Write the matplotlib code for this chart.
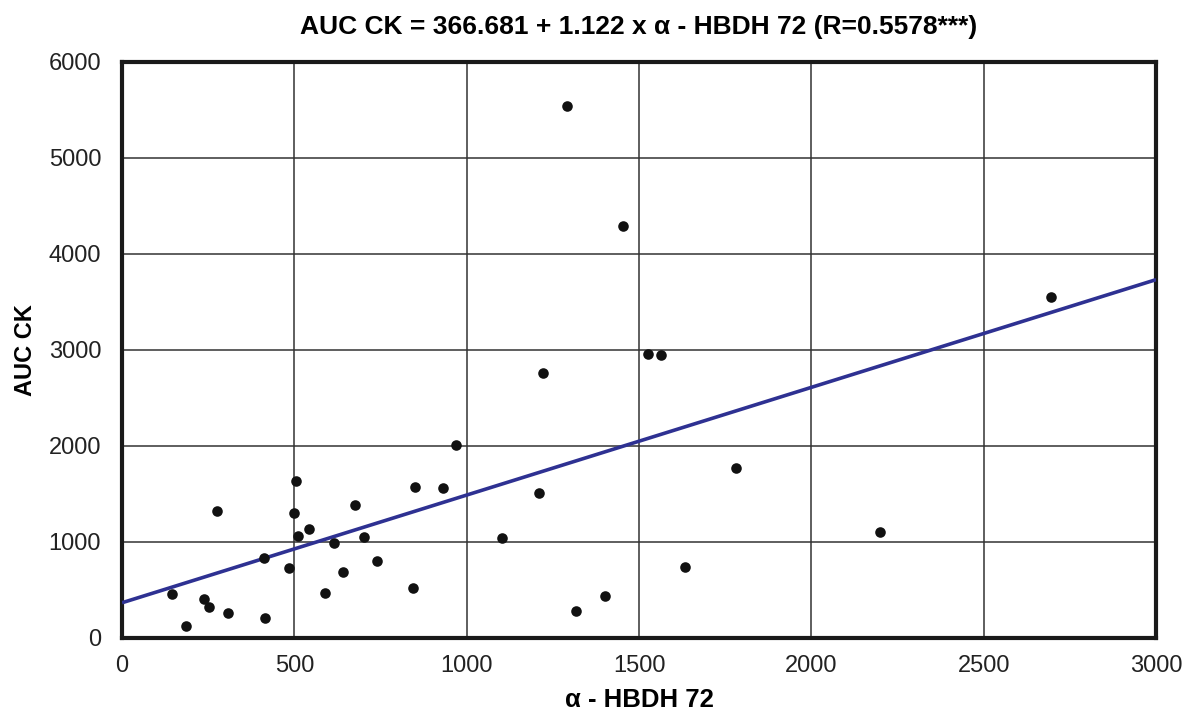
import matplotlib
matplotlib.use("Agg")
import matplotlib.pyplot as plt
import numpy as np

plt.rcParams['font.family'] = ['Liberation Sans', 'DejaVu Sans']

hbdh = [145, 186, 238, 252, 277, 308, 412, 414, 485, 498, 505, 510, 542, 589,
        615, 641, 676, 702, 739, 844, 850, 932, 970, 1102, 1209, 1221, 1290,
        1316, 1401, 1454, 1527, 1565, 1633, 1780, 2200, 2695]
auc_ck = [461, 125, 406, 323, 1326, 264, 837, 208, 733, 1305, 1639, 1066, 1139,
          472, 990, 688, 1389, 1056, 805, 524, 1576, 1566, 2005, 1045, 1514,
          2757, 5545, 281, 441, 4295, 2958, 2948, 743, 1774, 1107, 3552]
intercept = 366.681
slope = 1.122
x_ticks = [0, 500, 1000, 1500, 2000, 2500, 3000]
y_ticks = [0, 1000, 2000, 3000, 4000, 5000, 6000]

fig = plt.figure(figsize=(11.89, 7.19), dpi=100)
ax = fig.add_axes([0.1026, 0.1127, 0.8697, 0.8011])

ax.grid(True, color='#333333', linewidth=1.1, zorder=0)
ax.set_axisbelow(True)

xl = np.array([0, 3000])
ax.plot(xl, intercept + slope * xl, color='#2E3192', linewidth=2.6, zorder=3,
        solid_capstyle='butt')
ax.scatter(hbdh, auc_ck, s=58, color='#111111', zorder=4, linewidths=0)

ax.set_xlim(0, 3000)
ax.set_ylim(0, 6000)
ax.set_xticks(x_ticks)
ax.set_yticks(y_ticks)
ax.tick_params(axis='x', length=0, labelsize=17, pad=12, colors='#222222')
ax.tick_params(axis='y', length=0, labelsize=17, pad=15, colors='#222222')
for s in ax.spines.values():
    s.set_linewidth(3)
    s.set_color('#1a1a1a')

ax.set_xlabel('α - HBDH 72', fontsize=18.5, fontweight='bold', labelpad=8)
ax.set_ylabel('AUC CK', fontsize=17, fontweight='bold', labelpad=8)
ax.set_title('AUC CK = 366.681 + 1.122 x α - HBDH 72 (R=0.5578***)',
             fontsize=19, fontweight='bold', pad=20)

fig.savefig('out.png', dpi=100)
